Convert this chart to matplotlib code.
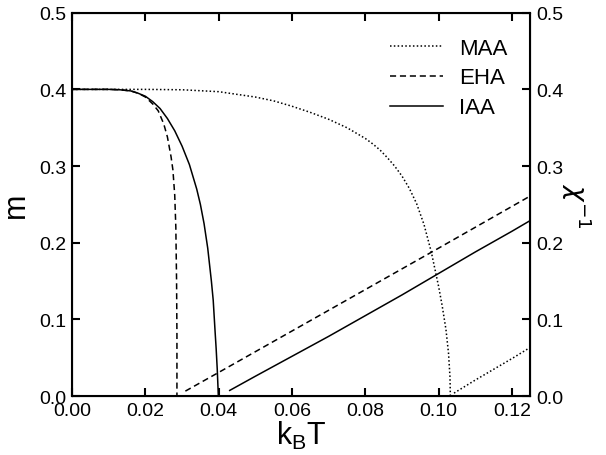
import matplotlib
matplotlib.use('Agg')
from matplotlib import pyplot as plt

plt.rcParams['font.family'] = ['Liberation Sans', 'DejaVu Sans']
plt.rcParams['mathtext.fontset'] = 'custom'
plt.rcParams['mathtext.rm'] = 'Liberation Sans'
plt.rcParams['mathtext.it'] = 'Liberation Sans'

# magnetisation curves m(kBT)
maa_t = [0.0, 0.01, 0.02, 0.03, 0.04, 0.05, 0.055, 0.06, 0.065, 0.07, 0.075, 0.08,
         0.082, 0.084, 0.086, 0.088, 0.090, 0.092, 0.094, 0.096, 0.098, 0.100, 0.101,
         0.102, 0.1027, 0.1031, 0.1032]
maa_m = [0.4, 0.4, 0.4, 0.3995, 0.397, 0.390, 0.385, 0.378, 0.370, 0.361, 0.350, 0.336,
         0.329, 0.321, 0.311, 0.300, 0.287, 0.271, 0.251, 0.224, 0.188, 0.143, 0.117,
         0.087, 0.056, 0.025, 0.0]

eha_t = [0.0, 0.01, 0.013, 0.016, 0.018, 0.020, 0.022, 0.0235, 0.025, 0.026, 0.027,
         0.0275, 0.028, 0.0283, 0.0285, 0.0286, 0.0286]
eha_m = [0.4, 0.4, 0.3995, 0.398, 0.395, 0.390, 0.381, 0.372, 0.355, 0.338, 0.312,
         0.295, 0.262, 0.22, 0.15, 0.08, 0.0]

iaa_t = [0.0, 0.01, 0.013, 0.016, 0.018, 0.020, 0.022, 0.024, 0.026, 0.028, 0.030,
         0.032, 0.034, 0.035, 0.036, 0.037, 0.038, 0.0385, 0.039, 0.0393, 0.0396, 0.0399]
iaa_m = [0.4, 0.4, 0.3995, 0.398, 0.395, 0.391, 0.384, 0.375, 0.362, 0.346, 0.326,
         0.302, 0.270, 0.250, 0.225, 0.193, 0.150, 0.125, 0.085, 0.062, 0.035, 0.0]

# inverse susceptibility above Tc
maa_chi_t = [0.1042, 0.11, 0.12, 0.125]
maa_chi = [0.004, 0.021, 0.049, 0.0636]

eha_chi_t = [0.0309, 0.04, 0.06, 0.08, 0.10, 0.125]
eha_chi = [0.0066, 0.031, 0.085, 0.139, 0.193, 0.261]

iaa_chi_t = [0.043, 0.05, 0.06, 0.07, 0.08, 0.09, 0.10, 0.11, 0.12, 0.125]
iaa_chi = [0.0075, 0.026, 0.052, 0.078, 0.105, 0.132, 0.160, 0.188, 0.215, 0.229]

x_ticks = [0.00, 0.02, 0.04, 0.06, 0.08, 0.10, 0.12]
y_ticks = [0.0, 0.1, 0.2, 0.3, 0.4, 0.5]

fig = plt.figure(figsize=(6.06, 4.56), dpi=100)
ax = fig.add_axes([0.119, 0.129, 0.756, 0.841])

dotted = (0, (1, 1.5))
dashed = (0, (4, 2.5))
lw = 1.1

ax.plot(maa_t, maa_m, color='black', lw=lw, linestyle=dotted, label='MAA')
ax.plot(eha_t, eha_m, color='black', lw=lw, linestyle=dashed, label='EHA')
ax.plot(iaa_t, iaa_m, color='black', lw=lw, linestyle='-', label='IAA')
ax.plot(maa_chi_t, maa_chi, color='black', lw=lw, linestyle=dotted)
ax.plot(eha_chi_t, eha_chi, color='black', lw=lw, linestyle=dashed)
ax.plot(iaa_chi_t, iaa_chi, color='black', lw=lw, linestyle='-')

ax.set_xlim(0, 0.125)
ax.set_ylim(0, 0.5)
ax.set_xticks(x_ticks)
ax.set_xticklabels(['%.2f' % v for v in x_ticks])
ax.set_yticks(y_ticks)
ax.set_yticklabels(['%.1f' % v for v in y_ticks])
ax.tick_params(direction='in', length=6, width=1.5, labelsize=14, top=True, pad=4)
for s in ax.spines.values():
    s.set_linewidth(1.5)

ax.set_xlabel(r'k$_\mathregular{B}$T', fontsize=22, labelpad=0)
ax.set_ylabel('m', fontsize=22, labelpad=6)

ax2 = ax.twinx()
ax2.set_ylim(0, 0.5)
ax2.set_yticks(y_ticks)
ax2.set_yticklabels(['%.1f' % v for v in y_ticks])
ax2.tick_params(direction='in', length=6, width=1.5, labelsize=14, pad=4)
ax2.set_ylabel(r'$\chi^{-1}$', fontsize=19, rotation=270, labelpad=22,
               math_fontfamily='dejavusans')

ax.legend(loc='upper right', frameon=False, fontsize=16, handlelength=2.4,
          handletextpad=0.7, labelspacing=0.4, borderpad=0, borderaxespad=0,
          bbox_to_anchor=(0.95, 0.935))

fig.savefig('out.png', dpi=100)
